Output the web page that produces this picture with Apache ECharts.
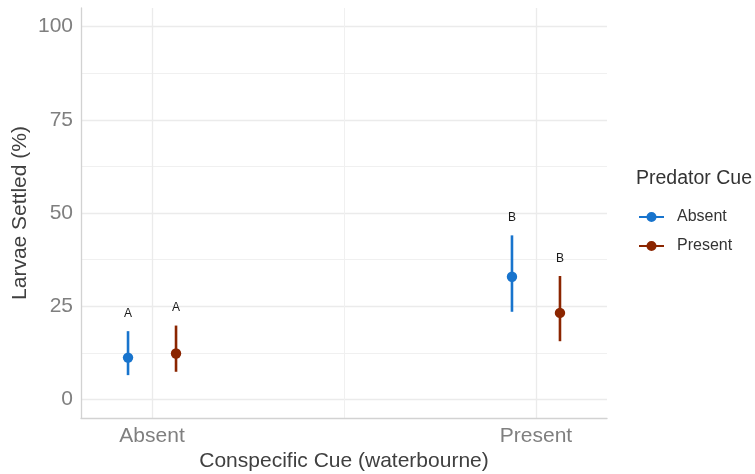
<!DOCTYPE html>
<html>
<head>
<meta charset="utf-8">
<script src="https://cdn.jsdelivr.net/npm/echarts@6/dist/echarts.min.js"></script>
<style>
  html, body { margin: 0; padding: 0; background: #ffffff; }
  #chart { width: 755px; height: 474px; }
</style>
</head>
<body>
<div id="chart"></div>
<script>
// Conspecific cue levels (x axis) and predator cue groups (legend)
const conspecificCues = ['Absent', 'Present'];
const predatorCues = ['Absent', 'Present'];
const groupColors = ['#1874CD', '#8B2500'];

// Mean larvae settled (%) and interval bounds, per predator cue, per conspecific cue
const meanAbsentPred = [11.2, 32.9];
const lowerAbsentPred = [6.5, 23.5];
const upperAbsentPred = [18.3, 44.0];
const letterAbsentPred = ['A', 'B'];

const meanPresentPred = [12.3, 23.2];
const lowerPresentPred = [7.4, 15.6];
const upperPresentPred = [19.8, 33.1];
const letterPresentPred = ['A', 'B'];

const yTicks = [0, 25, 50, 75, 100];
const yMinorTicks = [12.5, 37.5, 62.5, 87.5];

const groups = [
  { mean: meanAbsentPred, lower: lowerAbsentPred, upper: upperAbsentPred, letters: letterAbsentPred },
  { mean: meanPresentPred, lower: lowerPresentPred, upper: upperPresentPred, letters: letterPresentPred }
];
const dodge = 0.0625;
const FONT = 'Liberation Sans, Arial, sans-serif';

function xPos(ci, gi) {
  return ci + 1 + (gi === 0 ? -dodge : dodge);
}

const series = [];

// Panel grid lines, kept beneath the marks
const gridMajor = { color: '#ebebeb', width: 1.3, type: 'solid' };
const gridMinor = { color: '#f0f0f0', width: 1, type: 'solid' };
series.push({
  type: 'line',
  data: [],
  silent: true,
  z: 0,
  markLine: {
    silent: true,
    z: 0,
    symbol: 'none',
    label: { show: false },
    animation: false,
    data: [
      ...yMinorTicks.map(v => ({ yAxis: v, lineStyle: gridMinor })),
      ...yTicks.map(v => ({ yAxis: v, lineStyle: gridMajor })),
      { xAxis: 1.5, lineStyle: gridMinor },
      ...conspecificCues.map((c, i) => ({ xAxis: i + 1, lineStyle: gridMajor }))
    ]
  }
});

groups.forEach((g, gi) => {
  const name = predatorCues[gi];
  const color = groupColors[gi];
  // Interval whisker with the mean point on top, and the letter above
  series.push({
    name: name,
    type: 'custom',
    z: 10,
    renderItem: function (params, api) {
      const x = api.value(0);
      const pm = api.coord([x, api.value(1)]);
      const pl = api.coord([x, api.value(2)]);
      const pu = api.coord([x, api.value(3)]);
      return {
        type: 'group',
        children: [
          {
            type: 'line',
            shape: { x1: pl[0], y1: pl[1], x2: pu[0], y2: pu[1] },
            style: { stroke: color, lineWidth: 2.6 }
          },
          {
            type: 'circle',
            shape: { cx: pm[0], cy: pm[1], r: 5.2 },
            style: { fill: color }
          },
          {
            type: 'text',
            x: pu[0],
            y: pu[1] - 17.5,
            style: {
              text: g.letters[params.dataIndex],
              fill: '#1a1a1a',
              font: '12px ' + FONT,
              align: 'center',
              verticalAlign: 'middle'
            }
          }
        ]
      };
    },
    encode: { x: 0, y: [1, 2, 3] },
    data: conspecificCues.map((c, ci) => [xPos(ci, gi), g.mean[ci], g.lower[ci], g.upper[ci]])
  });
});

const chart = echarts.init(document.getElementById('chart'), null, { renderer: 'canvas' });
chart.setOption({
  animation: false,
  backgroundColor: '#ffffff',
  textStyle: { fontFamily: FONT },
  grid: { left: 81, right: 148, top: 8, bottom: 56, containLabel: false, outerBoundsMode: 'none' },
  title: {
    text: 'Predator Cue',
    left: 631,
    top: 164,
    textStyle: { fontFamily: FONT, fontSize: 19.5, fontWeight: 'normal', color: '#333333' }
  },
  legend: {
    left: 634,
    top: 204,
    orient: 'vertical',
    itemGap: 13,
    itemWidth: 25,
    itemHeight: 10,
    selectedMode: false,
    textStyle: { fontFamily: FONT, fontSize: 16, color: '#333333', padding: [0, 0, 0, 8] },
    data: predatorCues.map((n, i) => ({
      name: n,
      icon: 'path://M0,4.1 L25,4.1 L25,5.9 L0,5.9 Z M12.5,0 A5,5 0 1,1 12.5,10 A5,5 0 1,1 12.5,0 Z',
      itemStyle: { color: groupColors[i] }
    }))
  },
  xAxis: {
    type: 'value',
    min: 0.815,
    max: 2.185,
    name: 'Conspecific Cue (waterbourne)',
    nameLocation: 'middle',
    nameGap: 33,
    nameMoveOverlap: false,
    nameTextStyle: { fontFamily: FONT, fontSize: 21, color: '#404040' },
    axisLine: { show: true, onZero: false, lineStyle: { color: '#d2d2d2', width: 1.3 } },
    axisTick: { show: false },
    splitLine: { show: false },
    axisLabel: {
      customValues: [1, 2],
      fontFamily: FONT,
      fontSize: 21,
      color: '#7f7f7f',
      margin: 8,
      formatter: v => conspecificCues[Math.round(v) - 1]
    }
  },
  yAxis: {
    type: 'value',
    min: -5,
    max: 105,
    name: 'Larvae Settled (%)',
    nameLocation: 'middle',
    nameGap: 50,
    nameRotate: 90,
    nameMoveOverlap: false,
    nameTextStyle: { fontFamily: FONT, fontSize: 21, color: '#404040' },
    axisLine: { show: true, onZero: false, lineStyle: { color: '#d2d2d2', width: 1.3 } },
    axisTick: { show: false },
    splitLine: { show: false },
    axisLabel: {
      customValues: yTicks,
      fontFamily: FONT,
      fontSize: 21,
      color: '#7f7f7f',
      margin: 8
    }
  },
  series: series
});
</script>
</body>
</html>
